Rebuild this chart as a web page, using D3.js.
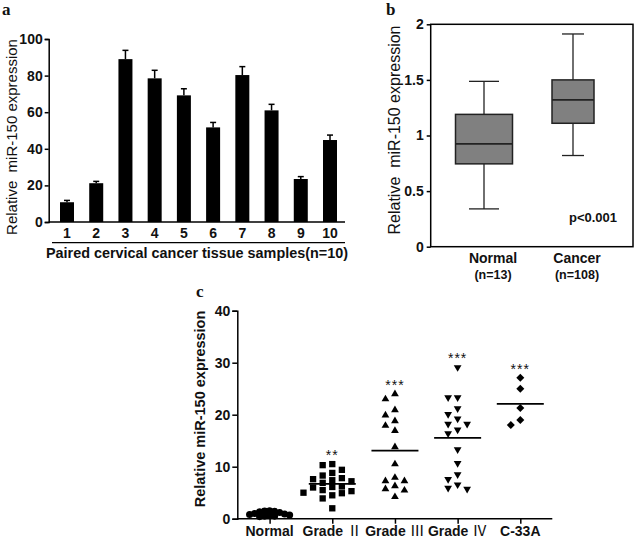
<!DOCTYPE html>
<html>
<head>
<meta charset="utf-8">
<script src="https://cdn.jsdelivr.net/npm/d3@7"></script>
<style>
  html, body { margin: 0; padding: 0; background: #fff; }
  svg { display: block; }
  text { font-family: "Liberation Sans", Arial, sans-serif; fill: #111; white-space: pre; }
</style>
</head>
<body>
<svg id="chart" width="638" height="539"></svg>
<script>
// ---------------- DATA ----------------
// Panel a: paired samples
const samples = ["1", "2", "3", "4", "5", "6", "7", "8", "9", "10"];
const sampleMeans = [10.8, 21.2, 89.0, 78.5, 69.2, 51.7, 80.3, 61.0, 23.5, 44.8];
const sampleErrors = [1.0, 1.0, 4.8, 4.4, 3.6, 2.7, 4.6, 3.3, 1.3, 2.7];
const aTicks = [0, 20, 40, 60, 80, 100];

// Panel b: box plot
const boxCategories = ["Normal", "Cancer"];
const boxCounts = ["(n=13)", "(n=108)"];
const boxMin = [0.34, 0.82];
const boxQ1 = [0.745, 1.11];
const boxMedian = [0.925, 1.32];
const boxQ3 = [1.19, 1.50];
const boxMax = [1.487, 1.913];
const bTicks = [0, 0.5, 1, 1.5, 2];
const bTickLabels = ["0", "0.5", "1", "1.5", "2"];

// Panel c: scatter by grade
const groups = ["Normal", "Grade II", "Grade III", "Grade IV", "C-33A"];
const normalVals = [1.5, 1.4, 1.45, 1.2, 1.3, 0.9, 1.0, 0.8, 0.7, 0.6, 0.5, 0.4, 0.5];
const grade2Vals = [10.5, 10.3, 9.4, 8.8, 8.3, 7.6, 7.2, 7.8, 7.4, 6.9, 6.0, 6.1, 6.2, 5.5, 5.0, 5.3, 4.9, 4.5, 3.9, 2.0];
const grade3Vals = [24.0, 23.0, 20.9, 19.9, 18.8, 17.9, 16.9, 13.8, 10.5, 7.9, 7.25, 7.25, 6.3, 5.7, 5.45, 4.2];
const grade4Vals = [29.1, 23.3, 23.3, 21.2, 20.1, 19.2, 18.2, 18.2, 17.1, 16.4, 13.3, 10.65, 8.5, 7.6, 6.55, 5.7, 5.9];
const c33aVals = [27.1, 25.0, 21.3, 19.0, 18.0];
const significance = ["", "**", "***", "***", "***"];
const cTicks = [0, 10, 20, 30, 40];

// ---------------- DRAW ----------------
const svg = d3.select("#chart");
const FONT_SERIF = "'Liberation Serif', 'DejaVu Serif', serif";

// ===== Panel a =====
{
  const g = svg.append("g");
  const x = d3.scalePoint().domain(samples).range([67, 330]);
  const y = d3.scaleLinear().domain([0, 100]).range([222, 39]);
  const barW = 14;

  g.append("text").text("a").attr("x", 2).attr("y", 15)
    .style("font-family", FONT_SERIF).style("font-weight", "bold").style("font-size", "17px");

  g.selectAll("rect.bar").data(sampleMeans).join("rect")
    .attr("x", (d, i) => x(samples[i]) - barW / 2)
    .attr("y", d => y(d))
    .attr("width", barW)
    .attr("height", d => y(0) - y(d))
    .attr("fill", "#000");

  // error bars (upper only)
  const eb = g.selectAll("g.eb").data(sampleMeans).join("g");
  eb.append("line")
    .attr("x1", (d, i) => x(samples[i])).attr("x2", (d, i) => x(samples[i]))
    .attr("y1", d => y(d)).attr("y2", (d, i) => y(d + sampleErrors[i]))
    .attr("stroke", "#000").attr("stroke-width", 1.5);
  eb.append("line")
    .attr("x1", (d, i) => x(samples[i]) - 3).attr("x2", (d, i) => x(samples[i]) + 3)
    .attr("y1", (d, i) => y(d + sampleErrors[i])).attr("y2", (d, i) => y(d + sampleErrors[i]))
    .attr("stroke", "#000").attr("stroke-width", 1.5);

  // y axis
  const ya = g.append("g").attr("transform", "translate(48.7,0)")
    .call(d3.axisLeft(y).tickValues(aTicks).tickSize(4).tickPadding(2));
  ya.select(".domain").attr("stroke", "#000").attr("stroke-width", 1.5);
  ya.selectAll(".tick line").attr("stroke", "#000").attr("stroke-width", 1.5);
  ya.selectAll(".tick text").style("font-size", "14px").style("font-weight", "bold")
    .style("font-family", "'Liberation Sans', Arial, sans-serif").attr("fill", "#111");

  // x axis baseline
  g.append("line").attr("x1", 48.7).attr("x2", 345).attr("y1", y(0)).attr("y2", y(0))
    .attr("stroke", "#000").attr("stroke-width", 1.5);
  g.selectAll("text.xl").data(samples).join("text")
    .attr("x", d => x(d)).attr("y", 238).attr("text-anchor", "middle")
    .style("font-size", "14px").style("font-weight", "bold").text(d => d);
  g.append("line").attr("x1", 52).attr("x2", 345).attr("y1", 242.7).attr("y2", 242.7)
    .attr("stroke", "#000").attr("stroke-width", 1.2);
  g.append("text").attr("x", 197).attr("y", 258).attr("text-anchor", "middle")
    .style("font-size", "14.4px").style("font-weight", "bold")
    .text("Paired cervical cancer tissue samples(n=10)");

  g.append("text").attr("transform", "translate(17,137) rotate(-90)")
    .attr("text-anchor", "middle").style("font-size", "15px")
    .text("Relative  miR-150 expression");
}

// ===== Panel b =====
{
  const g = svg.append("g");
  const y = d3.scaleLinear().domain([0, 2]).range([246.7, 24.3]);
  const x = d3.scalePoint().domain(boxCategories).range([484, 573]);
  const boxW = { "Normal": 57, "Cancer": 42 };
  const capW = { "Normal": 30, "Cancer": 22 };
  const labelShift = { "Normal": 9, "Cancer": 4 };

  g.append("text").text("b").attr("x", 386).attr("y", 15)
    .style("font-family", FONT_SERIF).style("font-weight", "bold").style("font-size", "17px");

  // frame
  g.append("rect").attr("x", 430.7).attr("y", y(2)).attr("width", 633 - 430.7)
    .attr("height", y(0) - y(2)).attr("fill", "none").attr("stroke", "#000").attr("stroke-width", 1.5);

  const ya = g.append("g").attr("transform", "translate(430.7,0)")
    .call(d3.axisLeft(y).tickValues(bTicks).tickFormat((d, i) => bTickLabels[i]).tickSize(4).tickPadding(3));
  ya.select(".domain").remove();
  ya.selectAll(".tick line").attr("stroke", "#000").attr("stroke-width", 1.5);
  ya.selectAll(".tick text").style("font-size", "14px").style("font-weight", "bold")
    .style("font-family", "'Liberation Sans', Arial, sans-serif").attr("fill", "#111");

  boxCategories.forEach((c, i) => {
    const cx = x(c);
    const bw = boxW[c], cw = capW[c];
    // whiskers
    g.append("line").attr("x1", cx).attr("x2", cx).attr("y1", y(boxMax[i])).attr("y2", y(boxQ3[i]))
      .attr("stroke", "#222").attr("stroke-width", 1.3);
    g.append("line").attr("x1", cx).attr("x2", cx).attr("y1", y(boxQ1[i])).attr("y2", y(boxMin[i]))
      .attr("stroke", "#222").attr("stroke-width", 1.3);
    g.append("line").attr("x1", cx - cw / 2).attr("x2", cx + cw / 2).attr("y1", y(boxMax[i])).attr("y2", y(boxMax[i]))
      .attr("stroke", "#222").attr("stroke-width", 1.3);
    g.append("line").attr("x1", cx - cw / 2).attr("x2", cx + cw / 2).attr("y1", y(boxMin[i])).attr("y2", y(boxMin[i]))
      .attr("stroke", "#222").attr("stroke-width", 1.3);
    // box
    g.append("rect").attr("x", cx - bw / 2).attr("y", y(boxQ3[i])).attr("width", bw)
      .attr("height", y(boxQ1[i]) - y(boxQ3[i])).attr("fill", "#808080")
      .attr("stroke", "#222").attr("stroke-width", 1.5);
    g.append("line").attr("x1", cx - bw / 2).attr("x2", cx + bw / 2).attr("y1", y(boxMedian[i])).attr("y2", y(boxMedian[i]))
      .attr("stroke", "#222").attr("stroke-width", 1.8);
    // labels
    g.append("text").attr("x", cx + labelShift[c]).attr("y", 263).attr("text-anchor", "middle")
      .style("font-size", "14px").style("font-weight", "bold").text(c);
    g.append("text").attr("x", cx + labelShift[c]).attr("y", 279).attr("text-anchor", "middle")
      .style("font-size", "12.5px").style("font-weight", "bold").text(boxCounts[i]);
  });

  g.append("text").attr("x", 593).attr("y", 222).attr("text-anchor", "middle")
    .style("font-size", "13px").style("font-weight", "bold").text("p<0.001");

  g.append("text").attr("transform", "translate(400,130) rotate(-90)")
    .attr("text-anchor", "middle").style("font-size", "16px")
    .text("Relative  miR-150 expression");
}

// ===== Panel c =====
{
  const g = svg.append("g");
  const y = d3.scaleLinear().domain([0, 40]).range([518.7, 310.7]);
  const x = d3.scalePoint().domain(groups).range([269.6, 520.3]);
  const groupVals = [normalVals, grade2Vals, grade3Vals, grade4Vals, c33aVals];

  g.append("text").text("c").attr("x", 196).attr("y", 297)
    .style("font-family", FONT_SERIF).style("font-weight", "bold").style("font-size", "17px");

  const ya = g.append("g").attr("transform", "translate(237.3,0)")
    .call(d3.axisLeft(y).tickValues(cTicks).tickSize(5).tickPadding(2));
  ya.select(".domain").attr("stroke", "#000").attr("stroke-width", 1.5);
  ya.selectAll(".tick line").attr("stroke", "#000").attr("stroke-width", 1.5);
  ya.selectAll(".tick text").style("font-size", "14px").style("font-weight", "bold")
    .style("font-family", "'Liberation Sans', Arial, sans-serif").attr("fill", "#111");

  const xa = g.append("g").attr("transform", `translate(0,${y(0)})`)
    .call(d3.axisBottom(x).tickSize(5).tickFormat(""));
  xa.select(".domain").attr("d", `M237.3,0H552.3`).attr("stroke", "#000").attr("stroke-width", 1.5);
  xa.selectAll(".tick line").attr("stroke", "#000").attr("stroke-width", 1.5);

  // category labels (roman numerals in separate tspan)
  groups.forEach((gname, i) => {
    const t = g.append("text").attr("x", x(gname)).attr("y", 536).attr("text-anchor", "middle")
      .style("font-size", "14px").style("font-weight", "bold");
    const m = gname.match(/^Grade (I+V?|IV)$/);
    if (m) {
      const roman = { "II": "\u2161", "III": "\u2162", "IV": "\u2163" }[m[1]];
      t.append("tspan").text("Grade");
      t.append("tspan").text(roman).attr("dx", 4).style("font-weight", "normal")
        .style("font-family", "'Noto Sans CJK SC', 'DejaVu Serif', serif").style("font-size", "15px");
    } else {
      t.text(gname);
    }
  });

  // beeswarm placement (deterministic)
  const squareDiamond = { draw(ctx, size) { const r = Math.sqrt(size / 2); ctx.moveTo(0, -r); ctx.lineTo(r, 0); ctx.lineTo(0, r); ctx.lineTo(-r, 0); ctx.closePath(); } };
  const symbols = [
    { type: d3.symbolCircle, size: 40, rot: 0, step: 5, w: 5, h: 4.5 },
    { type: d3.symbolSquare, size: 40, rot: 0, step: 4.8, w: 6.5, h: 6.5 },
    { type: d3.symbolTriangle, size: 26, rot: 0, step: 4.75, w: 9, h: 7 },
    { type: d3.symbolTriangle, size: 26, rot: 180, step: 4.75, w: 9, h: 7 },
    { type: squareDiamond, size: 32, rot: 0, step: 4.75, w: 9, h: 8 }
  ];

  function swarm(vals, cx, s) {
    const order = vals.map((v, i) => i).sort((a, b) => vals[b] - vals[a]);
    const placed = [];
    const out = new Array(vals.length);
    order.forEach(i => {
      const py = y(vals[i]);
      let px = cx;
      for (let n = 0; n < 60; n++) {
        const off = n === 0 ? 0 : (n % 2 === 1 ? -Math.ceil(n / 2) : Math.ceil(n / 2)) * s.step;
        const cand = cx + off;
        const hit = placed.some(p => Math.abs(p.x - cand) < s.w && Math.abs(p.y - py) < s.h);
        if (!hit) { px = cand; break; }
      }
      placed.push({ x: px, y: py });
      out[i] = { x: px, y: py };
    });
    return out;
  }

  groups.forEach((gname, gi) => {
    const vals = groupVals[gi];
    const s = symbols[gi];
    const pos = swarm(vals, x(gname), s);
    const sym = d3.symbol().type(s.type).size(s.size);
    g.selectAll(null).data(pos).join("path")
      .attr("d", sym)
      .attr("transform", d => `translate(${d.x},${d.y}) rotate(${s.rot})`)
      .attr("fill", "#000");
    const mean = d3.mean(vals);
    const halfW = gi === 0 ? 21 : 23.5;
    g.append("line").attr("x1", x(gname) - halfW).attr("x2", x(gname) + halfW)
      .attr("y1", y(mean)).attr("y2", y(mean)).attr("stroke", "#000").attr("stroke-width", 1.8);
    if (significance[gi]) {
      g.append("text").attr("x", x(gname)).attr("y", y(d3.max(vals)) - 4).attr("text-anchor", "middle")
        .style("font-size", "14px").attr("fill", "#333").style("letter-spacing", "1px")
        .text(significance[gi]);
    }
  });

  g.append("text").attr("transform", "translate(205,409) rotate(-90)")
    .attr("text-anchor", "middle").style("font-size", "14.5px").style("font-weight", "bold")
    .text("Relative miR-150 expression");
}
</script>
</body>
</html>
